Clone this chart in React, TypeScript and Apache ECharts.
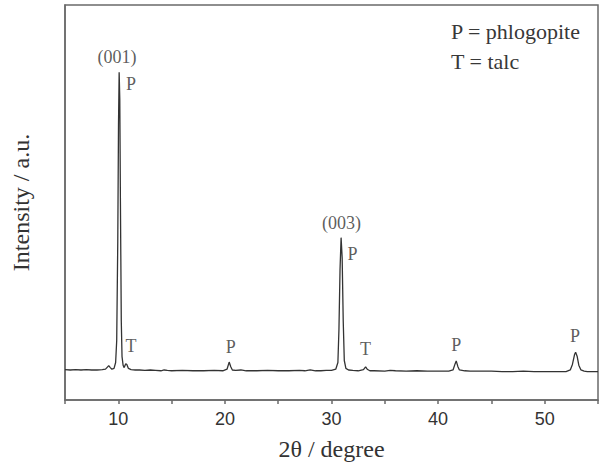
import React, { useEffect, useRef } from "react";
import * as echarts from "echarts";

// 2θ (degree) positions of the measured pattern
const twoTheta: number[] = [
  5.0, 5.5, 6.0, 6.5, 7.0, 7.5, 8.0, 8.5, 8.8, 9.0, 9.1, 9.25, 9.4, 9.6, 9.75, 9.85, 9.95, 10.02, 10.08, 10.14, 10.2,
  10.28, 10.35, 10.45, 10.55, 10.7, 10.8, 10.95, 11.2, 11.6, 12.0, 12.5, 13.0, 13.5, 14.0, 14.3, 14.6, 15.0, 16.0,
  17.0, 18.0, 19.0, 19.8, 20.2, 20.4, 20.55, 20.7, 21.0, 21.5, 22.0, 23.0, 24.0, 25.0, 26.0, 27.0, 27.5, 28.0, 28.5,
  29.0, 29.5, 30.0, 30.4, 30.6, 30.7, 30.8, 30.9, 31.0, 31.1, 31.2, 31.35, 31.6, 32.0, 32.5, 33.0, 33.2, 33.35, 33.6,
  34.0, 35.0, 35.5, 36.0, 37.0, 38.0, 39.0, 40.0, 41.0, 41.4, 41.6, 41.7, 41.85, 42.0, 42.5, 43.0, 44.0, 45.0, 46.0,
  47.0, 48.0, 49.0, 50.0, 51.0, 52.0, 52.4, 52.6, 52.8, 52.9, 53.05, 53.2, 53.4, 53.7, 54.0, 55.0,
];

// intensity (a.u.)
const intensity: number[] = [
  77, 76, 77, 76, 77, 76, 76, 77, 78, 84, 87, 82, 78, 80, 95, 150, 400, 700, 830, 760, 500,
  200, 110, 88, 82, 92, 90, 80, 77, 76, 76, 75, 76, 75, 74, 76, 75, 74, 75,
  74, 74, 75, 74, 78, 96, 84, 76, 75, 76, 74, 74, 75, 74, 74, 75, 74, 76, 74,
  74, 75, 75, 78, 95, 180, 330, 411, 360, 200, 100, 80, 76, 75, 74, 77, 84, 78, 74,
  74, 73, 75, 74, 73, 74, 73, 73, 73, 76, 92, 99, 85, 76, 74, 73, 73, 73, 72,
  72, 73, 72, 72, 72, 72, 76, 90, 115, 121, 110, 88, 76, 73, 72, 72,
];

// peak annotations: 2θ, intensity position, text
const annoX: number[] = [9.87, 11.18, 30.94, 31.97, 11.18, 20.54, 33.18, 41.7, 52.85];
const annoY: number[] = [868, 800, 448, 370, 137, 134, 129, 139, 162];
const annoText: string[] = ["(001)", "P", "(003)", "P", "T", "P", "T", "P", "P"];

const xTicks: number[] = [10, 20, 30, 40, 50];
const legendLines: string[] = ["P = phlogopite", "T = talc"];

export default function App() {
  const ref = useRef<HTMLDivElement>(null);
  useEffect(() => {
    if (!ref.current) return;
    const chart = echarts.init(ref.current, undefined, { renderer: "svg" });
    const serif = "Liberation Serif";
    const sans = "Liberation Sans";
    chart.setOption({
      animation: false,
      backgroundColor: "#ffffff",
      title: {
        text: legendLines.join("\n"),
        left: 451,
        top: 16,
        padding: 0,
        textStyle: {
          fontFamily: serif,
          fontSize: 22,
          fontWeight: "normal",
          lineHeight: 30,
          color: "#383838",
        },
      },
      grid: {
        left: 65,
        right: 1,
        top: 5,
        bottom: 62,
        outerBoundsMode: "none",
        containLabel: false,
        show: true,
        borderColor: "#6a6a6a",
        borderWidth: 1.5,
        backgroundColor: "transparent",
      },
      xAxis: {
        type: "value",
        min: 5,
        max: 55,
        interval: 5,
        name: "2θ / degree",
        nameLocation: "middle",
        nameGap: 37,
        nameTextStyle: { fontFamily: serif, fontSize: 24, color: "#333" },
        axisLine: { show: true, lineStyle: { color: "#6a6a6a", width: 1.5 } },
        axisTick: { show: true, inside: false, length: 4, lineStyle: { color: "#6a6a6a", width: 1.5 } },
        axisLabel: {
          margin: 10,
          fontFamily: sans,
          fontSize: 18,
          color: "#333",
          formatter: (v: number) => (xTicks.includes(v) ? String(v) : ""),
        },
        splitLine: { show: false },
      },
      yAxis: {
        type: "value",
        min: 0,
        max: 1000,
        name: "Intensity / a.u.",
        nameLocation: "middle",
        nameGap: 32,
        nameTextStyle: { fontFamily: serif, fontSize: 24, color: "#333" },
        axisLine: { show: true, lineStyle: { color: "#6a6a6a", width: 1.5 } },
        axisTick: { show: false },
        axisLabel: { show: false },
        splitLine: { show: false },
      },
      series: [
        {
          type: "line",
          data: twoTheta.map((x, i) => [x, intensity[i]]),
          showSymbol: false,
          symbol: "none",
          lineStyle: { color: "#333", width: 1.3 },
          z: 2,
        },
        {
          type: "scatter",
          symbolSize: 0,
          data: annoX.map((x, i) => [x, annoY[i], annoText[i]]),
          label: {
            show: true,
            position: "inside",
            formatter: (p: any) => p.value[2],
            fontFamily: serif,
            fontSize: 18,
            color: "#333",
          },
          z: 3,
        },
      ],
    });
    return () => chart.dispose();
  }, []);
  return (
    <div
      ref={ref}
      style={{ position: "fixed", left: 0, top: 0, width: 599, height: 462 }}
    />
  );
}
